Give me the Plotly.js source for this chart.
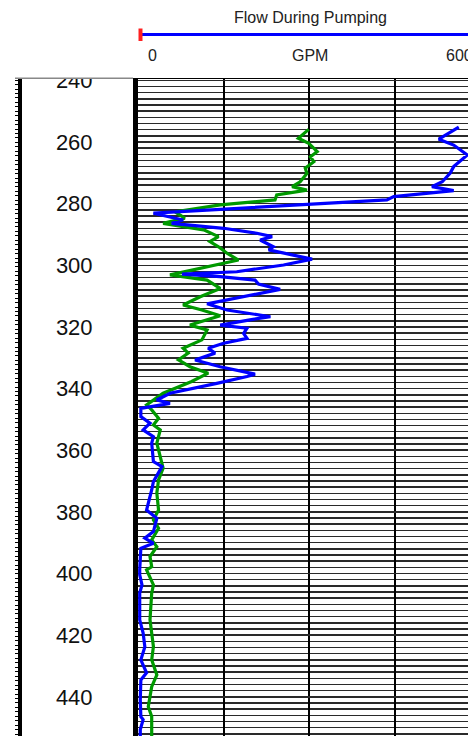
<!DOCTYPE html>
<html>
<head>
<meta charset="utf-8">
<script src="https://cdn.plot.ly/plotly-3.0.1.min.js"></script>
<style>
html,body{margin:0;padding:0;overflow:hidden;background:#fff;}
#chart{width:490px;height:736px;}
</style>
</head>
<body>
<div id="chart"></div>
<script>
// Data (depth in ft, flow in GPM)
const blueDepth = [255.2, 259.1, 261.0, 264.2, 268.0, 270.1, 272.9, 274.5, 275.8, 277.7, 278.8, 283.1, 285.3, 286.4, 288.0, 289.6, 290.7, 291.8, 294.0, 295.0, 296.7, 298.0, 299.9, 302.1, 302.9, 303.7, 304.8, 306.1, 307.8, 309.6, 311.2, 312.5, 314.5, 316.7, 317.7, 319.4, 320.4, 322.1, 323.7, 325.3, 326.9, 328.5, 330.7, 332.9, 335.3, 336.1, 338.3, 341.5, 343.7, 344.8, 346.4, 349.1, 351.2, 353.4, 355.6, 357.7, 363.7, 365.3, 370.2, 372.9, 379.4, 382.1, 386.4, 388.5, 390.2, 391.8, 398.8, 400.4, 403.7, 406.3, 415.0, 419.3, 423.8, 428.0, 432.2, 434.5, 441.0, 446.4, 447.4, 450.6, 452.7];
const blueFlow = [562, 527, 553, 577, 553, 547, 533, 515, 553, 448, 436, 27, 79, 59, 150, 208, 235, 214, 237, 229, 272, 305, 255, 173, 77, 144, 205, 211, 249, 202, 156, 121, 156, 232, 196, 144, 191, 185, 191, 150, 123, 135, 100, 144, 205, 191, 138, 56, 33, 56, 5, 5, 21, 9, 27, 24, 27, 42, 27, 24, 15, 33, 27, 12, 27, 5, 3, 3, 7, 3, 3, 9, 12, 5, 15, 5, 4, 5, 9, 4, 4];

const greenDepth = [255.9, 258.8, 260.4, 263.1, 264.8, 266.4, 268.5, 270.2, 272.9, 274.5, 275.6, 277.2, 278.8, 280.4, 282.7, 284.7, 286.4, 288.5, 290.7, 292.3, 294.0, 296.1, 298.3, 299.3, 303.1, 304.8, 307.5, 310.2, 312.9, 314.5, 316.4, 319.4, 321.0, 324.2, 326.9, 328.5, 330.7, 332.9, 335.0, 337.7, 341.5, 345.3, 346.9, 349.6, 351.8, 353.4, 357.7, 365.8, 369.6, 373.9, 379.4, 382.6, 385.3, 389.1, 391.3, 394.5, 397.8, 398.8, 403.7, 406.4, 415.0, 423.7, 428.0, 432.9, 436.7, 443.2, 446.4, 452.7];
const greenFlow = [299, 281, 299, 314, 302, 308, 293, 296, 284, 270, 296, 243, 240, 144, 65, 82, 44, 115, 141, 126, 141, 156, 176, 150, 56, 121, 144, 109, 79, 112, 144, 91, 121, 112, 79, 88, 71, 91, 123, 94, 44, 15, 24, 36, 27, 39, 33, 44, 36, 33, 36, 27, 36, 24, 33, 21, 24, 15, 27, 24, 21, 27, 24, 33, 24, 18, 24, 24];

const depthTicks = [240, 260, 280, 300, 320, 340, 360, 380, 400, 420, 440];
const flowMin = 0, flowMax = 600;
const depthRange = [452.7, 239.57];
const titleText = "Flow During Pumping";
const unitText = "GPM";

const W = 490, H = 736;
const plotL = 138, plotR = 480.5, plotT = 79;
const px = v => v / W;
const py = v => 1 + (plotT - v) / (H - plotT);
const FONT = 'Liberation Sans, Arial, sans-serif';

const traces = [
  {x: greenFlow, y: greenDepth, type: 'scatter', mode: 'lines',
   line: {color: '#009900', width: 3.2}, hoverinfo: 'skip'},
  {x: blueFlow, y: blueDepth, type: 'scatter', mode: 'lines',
   line: {color: '#0000ff', width: 3.2}, hoverinfo: 'skip'},
  {x: [null], y: [null], yaxis: 'y2', type: 'scatter', mode: 'lines', hoverinfo: 'skip'}
];

const layout = {
  width: W, height: H,
  margin: {l: 0, r: 0, t: plotT, b: 0},
  paper_bgcolor: '#fff', plot_bgcolor: '#fff',
  showlegend: false,
  xaxis: {
    domain: [px(plotL), px(plotR)],
    range: [flowMin, flowMax],
    side: 'top',
    showgrid: true, dtick: 150, gridcolor: '#000', gridwidth: 2,
    zeroline: false, showticklabels: false, ticks: '',
    showline: true, linecolor: '#000', linewidth: 1.5
  },
  yaxis: {
    range: depthRange,
    tickvals: depthTicks,
    ticks: '',
    showline: true, linecolor: '#000', linewidth: 5,
    showgrid: true, gridcolor: '#2a2a2a', gridwidth: 1.5,
    minor: {dtick: 2, showgrid: true, gridcolor: '#2a2a2a', gridwidth: 1.5},
    zeroline: false,
    ticklabelstandoff: 36,
    tickfont: {family: FONT, size: 22, color: '#111'}
  },
  yaxis2: {
    overlaying: 'y', anchor: 'free', position: px(19), side: 'left',
    range: depthRange,
    showline: true, linecolor: '#000', linewidth: 3.5,
    ticks: 'outside', ticklen: 3, tickwidth: 1, tickcolor: '#000',
    tick0: 338.07, dtick: 1.443,
    showticklabels: false, showgrid: false, zeroline: false
  },
  shapes: [
    {type: 'rect', xref: 'paper', yref: 'paper', x0: px(0), x1: px(plotL - 5.2),
     y0: py(78.6), y1: py(0), fillcolor: '#fff', line: {width: 0}, layer: 'above'},
    {type: 'line', xref: 'paper', yref: 'paper', x0: px(15), x1: px(plotL - 5),
     y0: py(78.3), y1: py(78.3), line: {color: '#888', width: 1.5}, layer: 'above'},
    {type: 'line', xref: 'paper', yref: 'paper', x0: px(140), x1: 1,
     y0: py(34.5), y1: py(34.5), line: {color: '#0000ff', width: 3}},
    {type: 'line', xref: 'paper', yref: 'paper', x0: px(140.5), x1: px(140.5),
     y0: py(28.5), y1: py(41), line: {color: '#ff2020', width: 4}}
  ],
  annotations: [
    {text: titleText, xref: 'paper', yref: 'paper', x: px(310), y: py(17.5),
     xanchor: 'center', yanchor: 'middle', showarrow: false,
     font: {family: FONT, size: 16, color: '#222'}},
    {text: unitText, xref: 'paper', yref: 'paper', x: px(310), y: py(55),
     xanchor: 'center', yanchor: 'middle', showarrow: false,
     font: {family: FONT, size: 16, color: '#222'}},
    {text: String(flowMin), xref: 'paper', yref: 'paper', x: px(146), y: py(55),
     xanchor: 'left', yanchor: 'middle', showarrow: false,
     font: {family: FONT, size: 16, color: '#222'}},
    {text: String(flowMax), xref: 'paper', yref: 'paper', x: px(475), y: py(55),
     xanchor: 'right', yanchor: 'middle', showarrow: false,
     font: {family: FONT, size: 16, color: '#222'}}
  ]
};

Plotly.newPlot('chart', traces, layout, {displayModeBar: false, staticPlot: true});
</script>
</body>
</html>
